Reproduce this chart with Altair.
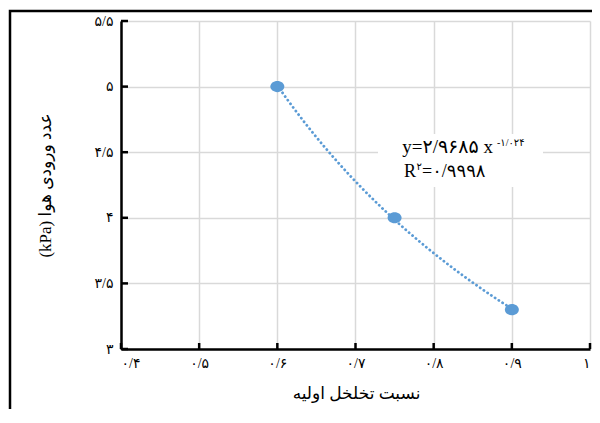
import altair as alt
import pandas as pd

# ---- data ----
x_vals = [0.6, 0.75, 0.9]
y_vals = [5.0, 4.0, 3.3]

x_ticks = [0.4, 0.5, 0.6, 0.7, 0.8, 0.9, 1.0]
x_labels = ["۰/۴", "۰/۵", "۰/۶", "۰/۷", "۰/۸", "۰/۹", "۱"]
y_ticks = [3.0, 3.5, 4.0, 4.5, 5.0, 5.5]
y_labels = ["۳", "۳/۵", "۴", "۴/۵", "۵", "۵/۵"]

x_title = "نسبت تخلخل اولیه"
y_title = "(kPa) عدد ورودی هوا"
eq_main = "y=۲/۹۶۸۵ x"
eq_exp = "-۱/۰۲۴"
r2_R = "R"
r2_sup = "۲"
r2_val = "=۰/۹۹۹۸"

FONT = "Liberation Serif, DejaVu Sans"
BLUE = "#5b9bd5"
GRID = "#d9d9d9"


def label_expr(ticks, labels):
    parts = [f"round(datum.value*10)=={round(t * 10)} ? '{l}'" for t, l in zip(ticks, labels)]
    return " : ".join(parts) + " : ''"


df = pd.DataFrame({"x": x_vals, "y": y_vals})
xt = pd.DataFrame({"v": x_ticks})
yt = pd.DataFrame({"v": y_ticks})
one = pd.DataFrame({"k": [0]})

xs = alt.Scale(domain=[0.4, 1.0], nice=False, zero=False)
ys = alt.Scale(domain=[3.0, 5.5], nice=False, zero=False)

x_axis = alt.Axis(
    values=x_ticks, labelExpr=label_expr(x_ticks, x_labels), title=x_title,
    grid=True, gridColor=GRID, gridWidth=1.5,
    domainColor="black", domainWidth=2.5, ticks=False, tickSize=0,
    labelPadding=7, labelFont=FONT, labelFontSize=14, labelColor="black",
    labelFlush=True, labelOverlap=False,
    titleFont=FONT, titleFontSize=17, titleFontWeight="normal", titleColor="black",
    titleX=235, titleY=44, titleBaseline="middle", titleAlign="center",
)
y_axis = alt.Axis(
    values=y_ticks, labelExpr=label_expr(y_ticks, y_labels), title=y_title,
    grid=True, gridColor=GRID, gridWidth=1.5,
    domainColor="black", domainWidth=2.5, ticks=False, tickSize=0,
    labelPadding=8, labelFont=FONT, labelFontSize=14, labelColor="black",
    labelFlush=False, labelOverlap=False,
    titleFont=FONT, titleFontSize=17, titleFontWeight="normal", titleColor="black",
    titleX=-76, titleY=164, titleAngle=-90, titleBaseline="middle", titleAlign="center",
)

X = lambda f: alt.X(f, scale=xs, axis=x_axis)
Y = lambda f: alt.Y(f, scale=ys, axis=y_axis)

points = alt.Chart(df).mark_point(
    filled=True, opacity=1, color=BLUE, size=196,
    shape="M-1,0A1,0.79,0,1,0,1,0A1,0.79,0,1,0,-1,0Z",
).encode(x=X("x:Q"), y=Y("y:Q"))

trend = alt.Chart(df).transform_regression("x", "y", method="pow").mark_line(
    color=BLUE, strokeDash=[0.1, 4.4], strokeCap="round", strokeWidth=2.8
).encode(x=X("x:Q"), y=Y("y:Q"))

border = alt.Chart(one).mark_rect(filled=False, stroke="black", strokeWidth=2.5).encode(
    x=alt.value(-111), x2=alt.value(700), y=alt.value(-10), y2=alt.value(600)
)

box = alt.Chart(one).mark_rect(color="white").encode(
    x=alt.value(257), x2=alt.value(422), y=alt.value(113), y2=alt.value(166)
)


def txt(s, x, y, size, align):
    return alt.Chart(one).mark_text(
        text=s, font=FONT, fontSize=size, color="black", align=align, baseline="alphabetic"
    ).encode(x=alt.value(x), y=alt.value(y))


texts = [
    txt(eq_main, 372, 132, 19, "right"),
    txt(eq_exp, 376, 125, 10, "left"),
    txt(r2_R, 295, 156, 18, "right"),
    txt(r2_sup, 295.5, 149, 10, "left"),
    txt(r2_val, 301, 156, 18, "left"),
]

xtick = alt.Chart(xt).mark_rule(color="black", strokeWidth=2.5).encode(
    x=X("v:Q"), y=alt.value(328), y2=alt.value(322)
)
ytick = alt.Chart(yt).mark_rule(color="black", strokeWidth=2.5).encode(
    y=Y("v:Q"), x=alt.value(0), x2=alt.value(7)
)

chart = alt.layer(
    points, trend, border, box, *texts, xtick, ytick
).properties(
    width=469, height=328,
    autosize=alt.AutoSizeParams(type="none"),
    padding={"left": 113, "top": 13, "right": 2, "bottom": 60},
    background="white",
).configure_view(strokeWidth=0)

chart.save("out.html", embed_options={"renderer": "svg", "actions": False})
